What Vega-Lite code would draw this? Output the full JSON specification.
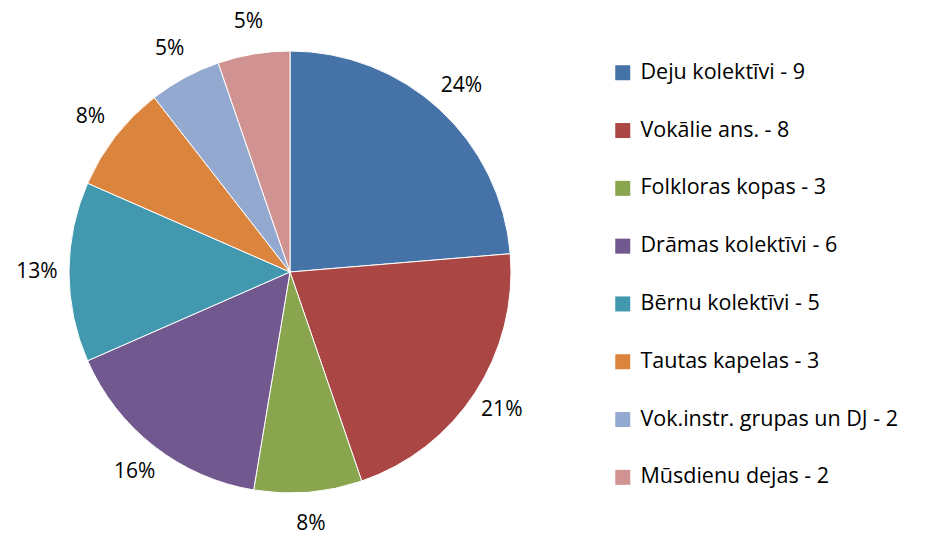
{
  "$schema": "https://vega.github.io/schema/vega-lite/v6.json",
  "width": 580,
  "height": 544,
  "autosize": "none",
  "padding": {"left": 0, "top": 0, "right": 351, "bottom": 0},
  "background": "white",
  "data": {
    "values": [
      {"cat": "Deju kolektīvi - 9", "value": 9, "pct": "24%", "ord": 1},
      {"cat": "Vokālie ans. - 8", "value": 8, "pct": "21%", "ord": 2},
      {"cat": "Folkloras kopas - 3", "value": 3, "pct": "8%", "ord": 3},
      {"cat": "Drāmas kolektīvi - 6", "value": 6, "pct": "16%", "ord": 4},
      {"cat": "Bērnu kolektīvi - 5", "value": 5, "pct": "13%", "ord": 5},
      {"cat": "Tautas kapelas - 3", "value": 3, "pct": "8%", "ord": 6},
      {"cat": "Vok.instr. grupas un DJ - 2", "value": 2, "pct": "5%", "ord": 7},
      {"cat": "Mūsdienu dejas - 2", "value": 2, "pct": "5%", "ord": 8}
    ]
  },
  "encoding": {
    "theta": {"field": "value", "type": "quantitative", "stack": true},
    "order": {"field": "ord", "type": "quantitative"},
    "color": {
      "field": "cat",
      "type": "nominal",
      "scale": {
        "domain": ["Deju kolektīvi - 9", "Vokālie ans. - 8", "Folkloras kopas - 3", "Drāmas kolektīvi - 6", "Bērnu kolektīvi - 5", "Tautas kapelas - 3", "Vok.instr. grupas un DJ - 2", "Mūsdienu dejas - 2"],
        "range": ["#4572A7", "#AA4643", "#89A54E", "#71588F", "#4198AF", "#DB843D", "#93A9CF", "#D19392"]
      },
      "legend": {
        "title": null,
        "orient": "none",
        "legendX": 612,
        "legendY": 62,
        "symbolType": "square",
        "symbolSize": 225,
        "symbolStrokeWidth": 0,
        "labelFont": "Open Sans",
        "labelFontSize": 21.5,
        "labelColor": "black",
        "labelOffset": 7,
        "rowPadding": 34.8,
        "labelLimit": 400
      }
    }
  },
  "layer": [
    {
      "mark": {"type": "arc", "outerRadius": 221, "stroke": "white", "strokeWidth": 1}
    },
    {
      "mark": {"type": "text", "radius": 253, "font": "Open Sans", "fontSize": 21, "fill": "black"},
      "encoding": {
        "text": {"field": "pct", "type": "nominal"},
        "color": {"value": "black"}
      }
    }
  ]
}
